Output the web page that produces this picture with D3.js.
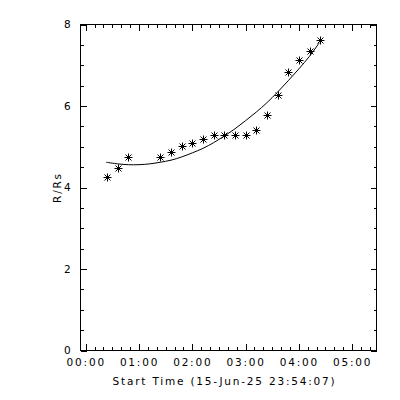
<!DOCTYPE html>
<html>
<head>
<meta charset="utf-8">
<script src="https://cdn.jsdelivr.net/npm/d3@7"></script>
<style>
  body { margin: 0; background: #fff; }
  svg text { font-family: "DejaVu Sans", sans-serif; font-size: 10.5px; letter-spacing: 1.8px; fill: #000; }
</style>
</head>
<body>
<div class="chart"></div>
<script>
// measured heights (R/Rs) vs time
var obsTimes = ["00:24", "00:36", "00:48", "01:24", "01:36", "01:48", "02:00", "02:12", "02:24",
                "02:36", "02:48", "03:00", "03:12", "03:24", "03:36", "03:48", "04:00", "04:12", "04:24"];
var obsHeights = [4.26, 4.49, 4.75, 4.75, 4.88, 5.01, 5.09, 5.19, 5.29,
                  5.29, 5.29, 5.30, 5.41, 5.79, 6.26, 6.83, 7.12, 7.34, 7.61];

// fitted curve
var fitTimes = ["00:23", "00:36", "00:48", "01:00", "01:12", "01:24", "01:36", "01:48", "02:00", "02:12", "02:24",
                "02:36", "02:48", "03:00", "03:12", "03:24", "03:36", "03:48", "04:00", "04:12", "04:23"];
var fitHeights = [4.62, 4.58, 4.56, 4.56, 4.58, 4.62, 4.67, 4.75, 4.85, 4.96, 5.10,
                  5.26, 5.44, 5.64, 5.85, 6.08, 6.34, 6.62, 6.91, 7.22, 7.55];

var yTicks = [0, 2, 4, 6, 8];
var startLabel = "15-Jun-25 23:54:07";
var xTitle = "Start Time (" + startLabel + ")";
var xSpanSeconds = 20000;

var parseClock = d3.utcParse("%Y-%m-%d %H:%M");
var t0 = d3.utcParse("%Y-%m-%d %H:%M:%S")("2025-06-15 23:54:07");
var t1 = new Date(t0.getTime() + xSpanSeconds * 1000);
function day2(s) { return parseClock("2025-06-16 " + s); }

var obs = obsTimes.map(function(t, i) { return {t: day2(t), v: obsHeights[i]}; });
var fit = fitTimes.map(function(t, i) { return {t: day2(t), v: fitHeights[i]}; });

var W = 400, H = 400;
var pxL = 80.5, pxR = 376.5, pxT = 24.5, pxB = 350.5;

var x = d3.scaleUtc().domain([t0, t1]).range([pxL, pxR]);
var y = d3.scaleLinear().domain([0, 8]).range([pxB, pxT]);

var svg = d3.select(".chart").append("svg")
    .attr("width", W).attr("height", H);

// frame
svg.append("rect")
    .attr("x", pxL).attr("y", pxT)
    .attr("width", pxR - pxL).attr("height", pxB - pxT)
    .attr("fill", "none").attr("stroke", "#000").attr("stroke-width", 1)
    .attr("shape-rendering", "crispEdges");

function styleAxis(g) {
    g.select(".domain").remove();
    g.selectAll("line").attr("stroke", "#000").attr("shape-rendering", "crispEdges");
    g.attr("font-family", null).attr("font-size", null);
}

// bottom axis, labelled
var xb = svg.append("g").attr("transform", "translate(0," + pxB + ")")
    .call(d3.axisBottom(x).ticks(d3.utcHour.every(1)).tickFormat(d3.utcFormat("%H:%M"))
        .tickSize(-6.5).tickPadding(8));
styleAxis(xb);
svg.append("g").attr("transform", "translate(0," + pxB + ")")
    .call(d3.axisBottom(x).ticks(d3.utcMinute.every(10)).tickFormat("").tickSize(-3.3))
    .call(styleAxis);

// top axis, mirror
svg.append("g").attr("transform", "translate(0," + pxT + ")")
    .call(d3.axisTop(x).ticks(d3.utcHour.every(1)).tickFormat("").tickSize(-6.5))
    .call(styleAxis);
svg.append("g").attr("transform", "translate(0," + pxT + ")")
    .call(d3.axisTop(x).ticks(d3.utcMinute.every(10)).tickFormat("").tickSize(-3.3))
    .call(styleAxis);

// left axis
var yl = svg.append("g").attr("transform", "translate(" + pxL + ",0)")
    .call(d3.axisLeft(y).tickValues(yTicks).tickFormat(d3.format("d")).tickSize(-6).tickPadding(8));
styleAxis(yl);
svg.append("g").attr("transform", "translate(" + pxL + ",0)")
    .call(d3.axisLeft(y).tickValues(d3.range(0, 8.01, 0.5)).tickFormat("").tickSize(-3))
    .call(styleAxis);

// right axis, mirror
svg.append("g").attr("transform", "translate(" + pxR + ",0)")
    .call(d3.axisRight(y).tickValues(yTicks).tickFormat("").tickSize(-6))
    .call(styleAxis);
svg.append("g").attr("transform", "translate(" + pxR + ",0)")
    .call(d3.axisRight(y).tickValues(d3.range(0, 8.01, 0.5)).tickFormat("").tickSize(-3))
    .call(styleAxis);

// titles
svg.append("text")
    .attr("x", (pxL + pxR) / 2 - 4).attr("y", 385)
    .attr("text-anchor", "middle")
    .text(xTitle);

svg.append("text")
    .attr("transform", "translate(61," + ((pxT + pxB) / 2) + ") rotate(-90)")
    .attr("text-anchor", "middle")
    .text("R/Rs");

// fit curve
var line = d3.line()
    .x(function(d) { return x(d.t); })
    .y(function(d) { return y(d.v); })
    .curve(d3.curveCatmullRom);

svg.append("path")
    .datum(fit)
    .attr("d", line)
    .attr("fill", "none")
    .attr("stroke", "#000")
    .attr("stroke-width", 1);

// asterisks
var star = svg.selectAll(".star")
    .data(obs)
    .enter()
    .append("g")
    .attr("class", "star")
    .attr("transform", function(d) {
        return "translate(" + Math.round(x(d.t)) + "," + Math.round(y(d.v)) + ")";
    });

var arms = [[-4, 0, 4, 0], [0, -4, 0, 4], [-3, -3, 3, 3], [-3, 3, 3, -3]];
arms.forEach(function(a) {
    star.append("line")
        .attr("x1", a[0] + 0.5).attr("y1", a[1] + 0.5)
        .attr("x2", a[2] + 0.5).attr("y2", a[3] + 0.5)
        .attr("stroke", "#000").attr("stroke-width", 1);
});
star.append("circle")
    .attr("cx", 0.5).attr("cy", 0.5).attr("r", 1.3)
    .attr("fill", "#000");
</script>
</body>
</html>
